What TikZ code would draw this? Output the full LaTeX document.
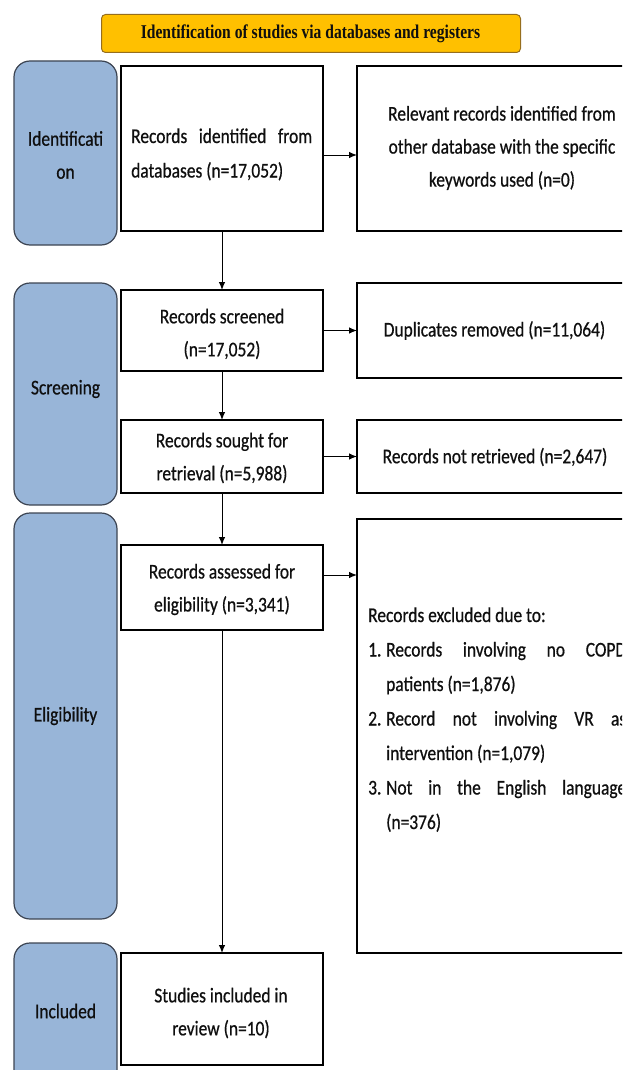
\documentclass[tikz,border=0pt]{standalone}
\usepackage{fontspec}
\setmainfont[FakeStretch=0.83,FakeBold=0.6]{Carlito}
\newfontfamily\titlefont[FakeStretch=0.80]{Liberation Serif}
\usetikzlibrary{arrows.meta}
\definecolor{stagefill}{RGB}{152,181,216}
\definecolor{stageline}{RGB}{60,68,82}
\definecolor{titlefill}{RGB}{255,192,0}
\definecolor{titleline}{RGB}{150,110,30}
\definecolor{ink}{RGB}{15,15,15}
\begin{document}
\begin{tikzpicture}[x=1pt,y=-1pt,
  stage/.style={draw=stageline, fill=stagefill, line width=1.2pt, rounded corners=16pt,
    inner sep=0pt, outer sep=0pt, anchor=north west, minimum width=103pt},
  box/.style={draw=black, fill=white, line width=1.3pt, inner sep=0pt, outer sep=0pt,
    anchor=north west},
  midbox/.style={box, minimum width=202pt},
  rightbox/.style={box, minimum width=295pt},
  txt/.style={inner sep=0pt, align=center, text=ink, font=\fontsize{21}{33}\selectfont},
  ptxt/.style={inner sep=0pt, anchor=base west, text=ink, font=\fontsize{21}{34.5}\selectfont},
  arr/.style={-{Latex[length=8pt,width=6.5pt]}, line width=1pt},
]
\useasboundingbox (0,0) rectangle (622,1070);
\clip (0,0) rectangle (622,1070);

% title
\node[draw=titleline, fill=titlefill, line width=1pt, rounded corners=4pt, inner sep=0pt,
  anchor=north west, minimum width=419pt, minimum height=38pt] (title) at (101,14) {};
\node[txt] (titlet) at (310.5,33.5) {\titlefont\bfseries\fontsize{19.5}{22}\selectfont Identification of studies via databases and registers};

% stage boxes
\node[stage, minimum height=184pt] (s1) at (14,61) {};
\node[stage, minimum height=222pt] (s2) at (14,283) {};
\node[stage, minimum height=406pt] (s3) at (14,513) {};
\node[stage, minimum height=150pt] (s4) at (14,943) {};
\node[txt] (s1t) at (65.5,155) {Identificati\\on};
\node[txt] (s2t) at (65.5,389) {Screening};
\node[txt] (s3t) at (65.5,716) {Eligibility};
\node[txt] (s4t) at (65.5,1011) {Included};

% middle boxes
\node[midbox, minimum height=165pt] (b1) at (121,66) {};
\node[midbox, minimum height=81pt] (b2) at (121,290) {};
\node[midbox, minimum height=73pt] (b3) at (121,420) {};
\node[midbox, minimum height=85pt] (b4) at (121,545) {};
\node[midbox, minimum height=112pt] (b5) at (121,953) {};

% right boxes
\node[rightbox, minimum height=165pt] (r1) at (357,66) {};
\node[rightbox, minimum height=95pt] (r2) at (357,283) {};
\node[rightbox, minimum height=73pt] (r3) at (357,420) {};
\node[rightbox, minimum height=434pt] (r4) at (357,519) {};

% texts
\node[ptxt] (b1t) at (131,143) {\parbox[t]{181pt}{Records identified from\linebreak databases (n=17,052)}};
\node[txt] (b2t) at (222,334) {Records screened\\(n=17,052)};
\node[txt] (b3t) at (222,458) {Records sought for\\retrieval (n=5,988)};
\node[txt] (b4t) at (222,589.5) {Records assessed for\\eligibility (n=3,341)};
\node[txt] (b5t) at (221,1013) {Studies included in\\review (n=10)};

\node[txt] (r1t) at (502,148) {Relevant records identified from\\other database with the specific\\keywords used (n=0)};
\node[txt] (r2t) at (494.5,330.5) {Duplicates removed (n=11,064)};
\node[txt] (r3t) at (495,457) {Records not retrieved (n=2,647)};
\node[ptxt] (r4t) at (368,622) {\parbox[t]{258pt}{Records excluded due to:\par
\hangindent=18pt\hangafter=1\noindent\makebox[18pt][l]{1.}Records involving no COPD\linebreak patients (n=1,876)\par
\hangindent=18pt\hangafter=1\noindent\makebox[18pt][l]{2.}Record not involving VR as\linebreak intervention (n=1,079)\par
\hangindent=18pt\hangafter=1\noindent\makebox[18pt][l]{3.}Not in the English language\linebreak (n=376)}};

% connectors
\coordinate (h1) at (340,155);
\coordinate (h4) at (340,575);
\draw[arr] (b1.south) -- (b2.north);
\draw[arr] (b2.south) -- (b3.north);
\draw[arr] (b3.south) -- (b4.north);
\draw[arr] (b4.south) -- (b5.north);
\draw[arr] (b1.east |- h1) -- (r1.west |- h1);
\draw[arr] (b2.east) -- (b2.east -| r2.west);
\draw[arr] (b3.east) -- (b3.east -| r3.west);
\draw[arr] (b4.east |- h4) -- (r4.west |- h4);
\end{tikzpicture}
\end{document}
